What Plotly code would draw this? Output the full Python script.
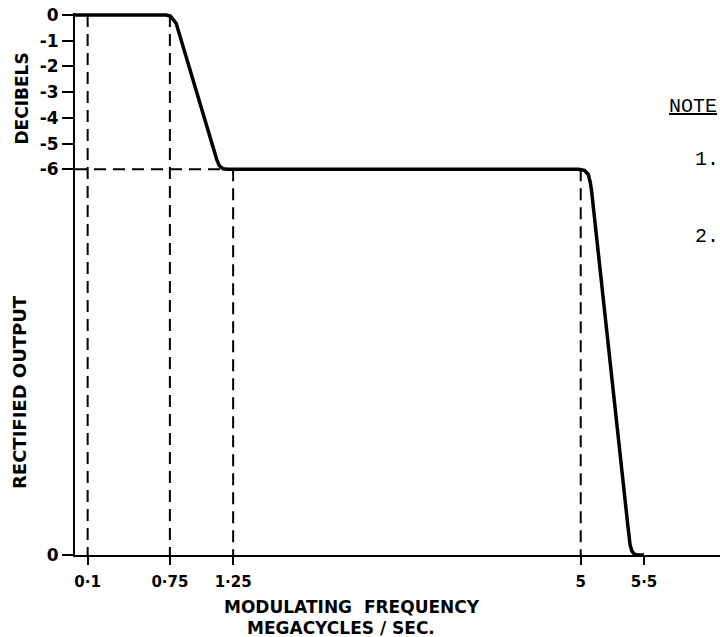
import plotly.graph_objects as go

# ---------------- data ----------------
FREQ_TICKS = [0.1, 0.75, 1.25, 5, 5.5]
FREQ_TICK_LABELS = ["0·1", "0·75", "1·25", "5", "5·5"]
DB_TICKS = [0, -1, -2, -3, -4, -5, -6]
DB_TICK_LABELS = ["0", "-1", "-2", "-3", "-4", "-5", "-6"]
ZERO_OUTPUT_LABEL = "0"

# response curve; None = zero rectified output (bottom of the chart)
CURVE_FREQ = [0.0, 0.72, 0.755, 0.775, 0.80, 1.12, 1.14, 1.17, 1.21,
              4.98, 5.03, 5.06, 5.075, 5.085, 5.37, 5.39, 5.405, 5.425, 5.45, 5.50]
CURVE_DB = [0, 0, -0.04, -0.15, -0.33, -5.61, -5.85, -5.98, -6.0,
            -6.0, -6.04, -6.2, -6.5, -6.8, -19.74, -20.6, -20.85, -20.97, None, None]

# dashed construction lines
GUIDE_FREQ = [0.1, 0.75, 1.25, 5]
GUIDE_TOP_DB = [0, 0, -6, -6]
GUIDE_LEVEL_DB = -6
GUIDE_LEVEL_END_FREQ = 1.2

# ---------------- layout constants ----------------
W, H = 720, 637
ML, MR, MT, MB = 75, 0, 13, 82
Y_FLOOR = -21.0
Y_TOP = 0.08
X_BREAK_PAPER = 325 / 645
XL_RANGE = [0, 2.569]
XR_RANGE = [3.5715, 6.101]

LETTER_FONT = "DejaVu Sans"
TYPE_FONT = "Liberation Mono, Courier New, monospace"

ydb = [Y_FLOOR if v is None else v for v in CURVE_DB]

fig = go.Figure()
for xa in ["x", "x2"]:
    fig.add_trace(go.Scatter(
        x=CURVE_FREQ, y=ydb, xaxis=xa, yaxis="y", mode="lines",
        line=dict(color="black", width=3.5), showlegend=False, hoverinfo="skip"))

dash = "12px,7px"
shapes = []
for f, top in zip(GUIDE_FREQ, GUIDE_TOP_DB):
    xref = "x" if f <= XL_RANGE[1] else "x2"
    shapes.append(dict(type="line", xref=xref, yref="y", x0=f, x1=f, y0=top, y1=Y_FLOOR,
                       line=dict(color="black", width=2, dash=dash), layer="below"))
shapes.append(dict(type="line", xref="x", yref="y", x0=0, x1=GUIDE_LEVEL_END_FREQ,
                   y0=GUIDE_LEVEL_DB, y1=GUIDE_LEVEL_DB,
                   line=dict(color="black", width=2, dash=dash), layer="below"))


def px_to_paper(px, py):
    return (px - ML) / (W - ML - MR), 1 - (py - MT) / (H - MT - MB)


def ann(text, px, py, size, font=LETTER_FONT, angle=0, bold=True, xanchor="center"):
    x, y = px_to_paper(px, py)
    return dict(text=text, x=x, y=y, xref="paper", yref="paper", showarrow=False,
                textangle=angle, xanchor=xanchor, yanchor="middle",
                font=dict(family=font, size=size, color="black",
                          weight="bold" if bold else "normal"))


annotations = [
    ann("DECIBELS", 21.5, 98, 17, angle=-90),
    ann("RECTIFIED OUTPUT", 19, 392, 18, angle=-90),
    ann("MODULATING  FREQUENCY", 352, 607, 17),
    ann("MEGACYCLES / SEC.", 341, 628, 17),
    ann("<u>NOTE</u>", 693, 107, 20, font=TYPE_FONT, bold=False),
    ann("1.", 707, 159, 20, font=TYPE_FONT, bold=False),
    ann("2.", 707, 236, 20, font=TYPE_FONT, bold=False),
]

tickfont = dict(family=LETTER_FONT, size=15, color="black", weight="bold")
xcommon = dict(showline=True, linecolor="black", linewidth=2, ticks="outside",
               ticklen=8, tickwidth=2, tickcolor="black", showgrid=False,
               zeroline=False, tickfont=tickfont, ticklabelstandoff=4, fixedrange=True)

left_ticks = [(v, t) for v, t in zip(FREQ_TICKS, FREQ_TICK_LABELS) if v <= XL_RANGE[1]]
right_ticks = [(v, t) for v, t in zip(FREQ_TICKS, FREQ_TICK_LABELS) if v >= XR_RANGE[0]]

fig.update_layout(
    width=W, height=H,
    margin=dict(l=ML, r=MR, t=MT, b=MB, autoexpand=False),
    paper_bgcolor="white", plot_bgcolor="white",
    showlegend=False,
    xaxis=dict(domain=[0, X_BREAK_PAPER], range=XL_RANGE, anchor="y",
               tickmode="array", tickvals=[v for v, _ in left_ticks],
               ticktext=[t for _, t in left_ticks], **xcommon),
    xaxis2=dict(domain=[X_BREAK_PAPER, 1], range=XR_RANGE, anchor="y",
                tickmode="array", tickvals=[v for v, _ in right_ticks],
                ticktext=[t for _, t in right_ticks], **xcommon),
    yaxis=dict(domain=[0, 1], range=[Y_FLOOR, Y_TOP], anchor="x",
               tickmode="array", tickvals=DB_TICKS + [Y_FLOOR],
               ticktext=DB_TICK_LABELS + [ZERO_OUTPUT_LABEL],
               showline=True, linecolor="black", linewidth=2, ticks="outside",
               ticklen=11, tickwidth=2, tickcolor="black", showgrid=False,
               zeroline=False, tickfont=dict(family=LETTER_FONT, size=17, color="black",
                                             weight="bold"),
               ticklabelstandoff=0, fixedrange=True),
    shapes=shapes,
    annotations=annotations,
)

fig.write_html(
    "out.html",
    config={"displayModeBar": False},
    post_script="document.body.style.margin='0';document.body.style.overflow='hidden';",
)
